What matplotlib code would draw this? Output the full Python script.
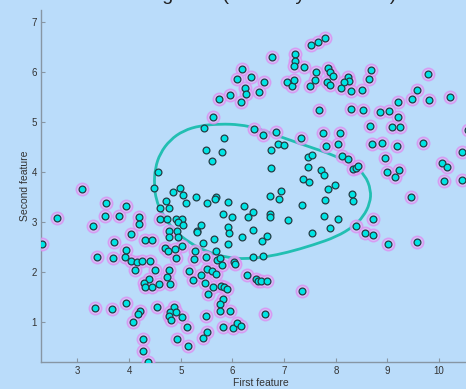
import numpy as np
import matplotlib
matplotlib.use('Agg')
import matplotlib.pyplot as plt
from matplotlib.path import Path
from matplotlib.patches import PathPatch

plt.rcParams['font.family'] = ['Liberation Sans', 'DejaVu Sans']

# Points flagged as outliers (drawn with a halo)
outlier_x = [2.311, 2.613, 3.097, 3.309, 3.549, 3.536, 3.801, 3.948, 4.199, 4.193,
             3.704, 4.033, 3.375, 3.685, 3.917, 3.948, 4.033, 4.161, 4.251, 4.406,
             4.122, 4.310, 4.445, 4.509, 4.387, 4.296, 4.310, 4.445, 4.574, 4.729,
             4.774, 4.793, 3.342, 3.677, 3.948, 4.207, 4.180, 4.077, 4.547, 4.870,
             4.793, 4.903, 4.780, 4.818, 5.019, 5.116, 5.484, 4.277, 4.934, 4.265,
             4.373, 5.135, 5.503, 5.437, 5.824, 6.006, 6.095, 6.161, 5.812, 5.760,
             5.760, 5.944, 6.625, 7.352, 5.528, 5.631, 5.779, 5.828, 5.890, 5.464,
             5.232, 5.166, 5.387, 5.503, 5.600, 5.683, 5.793, 6.031, 6.050, 6.288,
             6.456, 6.501, 6.553, 6.675, 5.696, 5.489, 5.257, 5.267, 5.015, 4.903,
             4.696, 4.760, 4.880, 4.600, 4.774,
             5.615, 6.418, 6.586, 6.838, 7.327, 6.180, 6.360, 6.083, 6.605, 6.244,
             6.269, 6.520, 6.157, 5.959, 5.747, 7.791, 7.662, 7.520, 6.772, 7.211,
             7.205, 7.197, 7.379, 7.062, 7.147, 7.191, 7.617, 7.598, 7.501, 7.843,
             7.882, 7.940, 7.824, 7.888, 8.230, 8.255, 8.159, 8.101, 8.288, 8.507,
             8.642, 8.681, 9.778, 9.571, 9.468, 9.203, 9.809, 10.203, 7.681, 8.288,
             8.532, 8.861, 9.029, 9.203, 8.662, 9.097, 9.236, 7.758, 8.081, 7.805,
             8.048, 8.700, 8.888, 9.190, 9.687, 10.435, 10.557, 8.952, 8.126, 8.242,
             8.342, 8.391, 8.435, 8.985, 9.145, 9.228, 10.048, 10.145, 10.099, 10.435,
             9.449, 8.391, 8.714, 8.565, 8.729, 9.015, 9.565]
outlier_y = [2.548, 3.080, 3.654, 2.920, 3.380, 3.114, 3.114, 3.320, 3.100, 2.960,
             2.600, 2.754, 2.300, 2.280, 2.288, 2.428, 2.220, 2.188, 2.208, 2.214,
             2.028, 2.634, 2.634, 2.034, 1.860, 1.768, 1.700, 1.700, 1.754, 1.888,
             2.034, 1.754, 1.268, 1.260, 1.374, 1.220, 1.154, 1.000, 1.300, 1.294,
             1.200, 1.188, 1.120, 1.034, 1.100, 0.888, 1.114, 0.660, 0.660, 0.420,
             0.188, 0.520, 0.788, 0.680, 0.900, 0.880, 0.968, 0.920, 1.454, 1.348,
             1.214, 1.204, 1.160, 1.620, 1.554, 1.700, 1.704, 1.684, 1.648, 1.780,
             1.834, 2.008, 1.940, 2.044, 2.010, 1.944, 2.128, 2.200, 2.154, 1.934,
             1.854, 1.820, 1.814, 1.814, 2.234, 2.288, 2.254, 2.414, 2.514, 2.268,
             2.468, 2.414, 2.444, 3.060, 2.820,
             5.084, 4.860, 4.740, 4.784, 4.674, 6.060, 5.900, 5.860, 5.788, 5.680,
             5.554, 5.600, 5.400, 5.534, 5.448, 6.680, 6.594, 6.528, 6.288, 6.354,
             6.220, 6.114, 6.100, 5.788, 5.720, 5.834, 6.000, 5.834, 5.720, 6.068,
             5.988, 5.914, 5.800, 5.734, 5.900, 5.814, 5.794, 5.680, 5.620, 5.634,
             5.854, 6.034, 5.954, 5.634, 5.454, 5.388, 5.428, 5.494, 5.234, 5.248,
             5.234, 5.188, 5.208, 5.100, 4.904, 4.894, 4.900, 4.774, 4.768, 4.520,
             4.560, 4.548, 4.580, 4.520, 4.574, 4.400, 4.834, 4.274, 4.308, 4.254,
             4.048, 4.080, 4.104, 3.988, 3.900, 4.040, 4.168, 4.100, 3.814, 3.834,
             3.500, 2.920, 3.048, 2.774, 2.724, 2.554, 2.594]

# Points inside the fitted boundary
inlier_x = [4.489, 4.561, 4.857, 4.992, 5.050, 4.716, 5.102, 5.302, 5.503, 5.683,
            5.669, 5.921, 4.594, 4.780, 4.741, 4.909, 5.019, 4.942, 5.050, 4.928,
            4.774, 4.942, 5.309, 5.321, 5.393, 5.812, 5.998, 6.224, 6.398, 6.296,
            5.921, 5.940, 5.437, 5.644, 5.921, 5.689, 5.760, 6.180, 6.404, 6.573,
            6.663, 6.393, 6.586, 6.727, 6.940, 6.901, 6.727, 6.727, 7.070, 7.346,
            7.534, 6.741, 6.741, 6.876, 6.998, 7.456, 7.540, 7.456, 7.366, 7.482,
            7.720, 7.766, 7.855, 7.979, 7.785, 7.772, 8.043, 7.888, 8.308, 8.333,
            5.456, 5.838, 5.484, 5.805, 5.605]
inlier_y = [3.674, 4.000, 3.600, 3.680, 3.534, 3.414, 3.380, 3.494, 3.374, 3.488,
            3.448, 3.400, 3.274, 3.274, 3.048, 3.060, 3.060, 2.988, 2.928, 2.820,
            2.700, 2.688, 2.814, 2.788, 2.928, 3.148, 3.094, 3.314, 3.200, 3.094,
            2.894, 2.780, 2.580, 2.644, 2.554, 2.420, 2.280, 2.694, 2.828, 2.620,
            2.708, 2.300, 2.320, 3.520, 3.608, 3.454, 3.154, 3.088, 3.034, 3.340,
            2.768, 4.074, 4.428, 4.554, 4.540, 4.288, 4.328, 4.100, 3.860, 3.800,
            4.034, 3.928, 3.654, 3.734, 3.428, 3.120, 3.048, 2.874, 3.548, 3.408,
            4.868, 4.680, 4.434, 4.394, 4.214]

# Decision boundary (closed loop, clockwise from the left)
boundary_x = [4.484, 4.503, 4.600, 4.793, 5.050, 5.373, 5.760, 6.147, 6.470, 6.921,
              7.437, 7.952, 8.338, 8.565, 8.681, 8.662, 8.532, 8.338, 8.017, 7.565,
              7.050, 6.663, 6.277, 5.890, 5.503, 5.180, 4.857, 4.633, 4.523]
boundary_y = [3.734, 4.068, 4.368, 4.634, 4.820, 4.920, 4.954, 4.940, 4.868, 4.700,
              4.514, 4.334, 4.134, 3.934, 3.634, 3.368, 3.100, 2.900, 2.700, 2.534,
              2.380, 2.300, 2.254, 2.280, 2.400, 2.568, 2.834, 3.168, 3.434]

x_ticks = [3, 4, 5, 6, 7, 8, 9, 10]
y_ticks = [1, 2, 3, 4, 5, 6, 7]

bg = '#badcfa'
fig = plt.figure(figsize=(4.66, 3.89), dpi=100, facecolor=bg)
ax = fig.add_axes([0.0886, 0.0686, 0.9414, 0.906])
ax.set_facecolor(bg)

# smooth closed curve through the boundary points (quadratic b-spline)
pts = np.column_stack([boundary_x, boundary_y])
nxt = np.roll(pts, -1, axis=0)
mids = (pts + nxt) / 2
verts = [mids[-1]]
codes = [Path.MOVETO]
for p, m in zip(pts, mids):
    verts += [p, m]
    codes += [Path.CURVE3, Path.CURVE3]
ax.add_patch(PathPatch(Path(verts, codes), fill=False, edgecolor='#22bfb2',
                       lw=2, zorder=2))

# halo behind outliers, then all points on top
ax.scatter(outlier_x, outlier_y, s=80, facecolor='#e2b6f6', edgecolor='#dc8cf0',
           linewidth=1.1, alpha=0.75, zorder=3)
ax.scatter(outlier_x + inlier_x, outlier_y + inlier_y, s=24, facecolor='#00e4e4',
           edgecolor='#243c44', linewidth=0.9, zorder=4)

ax.set_xlim(2.30, 10.79)
ax.set_ylim(0.188, 7.234)
ax.set_xticks(x_ticks)
ax.set_yticks(y_ticks)
ax.tick_params(direction='in', length=3, width=0.8, color='#8796a4',
               labelsize=7, labelcolor='#333333', pad=3)
for s in ['top', 'right']:
    ax.spines[s].set_visible(False)
for s in ['left', 'bottom']:
    ax.spines[s].set_color('#8796a4')
    ax.spines[s].set_linewidth(1)
ax.set_xlabel('First feature', fontsize=7.5, color='#333333', labelpad=1)
ax.set_ylabel('Second feature', fontsize=7.5, color='#333333', labelpad=1)

fig.text(0.535, 1.0, 'Training data (Anomaly detection)', ha='center',
         va='baseline', fontsize=14, color='#222222')

fig.savefig('out.png', dpi=100, facecolor=bg)
